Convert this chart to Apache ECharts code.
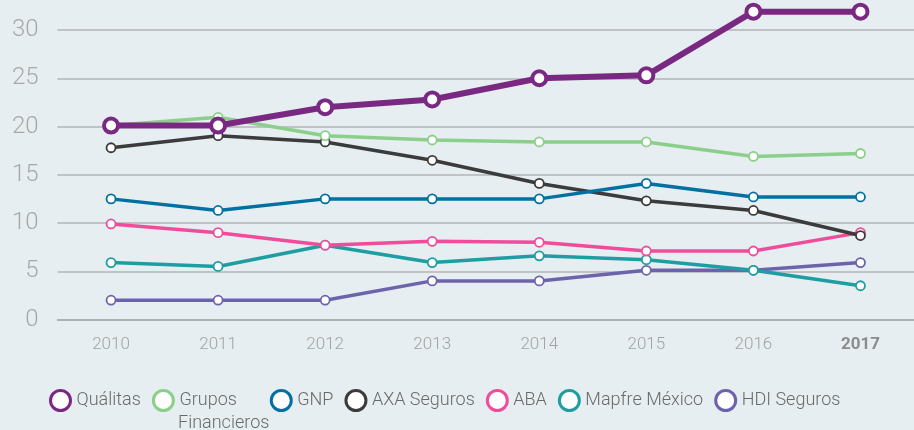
<!DOCTYPE html>
<html>
<head>
<meta charset="utf-8">
<script src="https://cdn.jsdelivr.net/npm/echarts@6/dist/echarts.min.js"></script>
<style>
html,body{margin:0;padding:0;background:#e6eef1;}
#c{width:914px;height:430px;}
</style>
</head>
<body>
<div id="c"></div>
<script>
var years = ['2010','2011','2012','2013','2014','2015','2016','2017'];
var yTicks = [0,5,10,15,20,25,30];
var qualitas = [20.1,20.1,22.0,22.8,25.0,25.3,31.9,31.9];
var grupos   = [20.1,20.95,19.05,18.6,18.4,18.4,16.9,17.2];
var gnp      = [12.5,11.3,12.5,12.5,12.5,14.1,12.7,12.7];
var axa      = [17.8,19.05,18.4,16.5,14.1,12.3,11.3,8.7];
var aba      = [9.9,9.0,7.7,8.1,8.0,7.1,7.1,9.0];
var mapfre   = [5.9,5.5,7.7,5.9,6.6,6.2,5.1,3.5];
var hdi      = [2.0,2.0,2.0,4.0,4.0,5.1,5.1,5.9];

var names = ['Quálitas','Grupos Financieros','GNP','AXA Seguros','ABA','Mapfre México','HDI Seguros'];
var colors = ['#7a2982','#8ccf8b','#0071a1','#3b3b3b','#ef4d9c','#1f9ea2','#6d63ab'];
var datas = [qualitas,grupos,gnp,axa,aba,mapfre,hdi];

var series = [];
for (var i = datas.length - 1; i >= 0; i--) {
  var main = i === 0;
  series.push({
    name: names[i],
    type: 'line',
    data: datas[i],
    clip: false,
    z: main ? 10 : 2 + (datas.length - i),
    symbol: 'circle',
    symbolSize: main ? 14 : 9,
    lineStyle: {color: colors[i], width: main ? 6 : 3.5},
    itemStyle: {color: '#ffffff', borderColor: colors[i], borderWidth: main ? 4 : 1.8},
    emphasis: {disabled: true},
    animation: false
  });
}

var legendData = names.map(function(n, i){
  return {name: n, icon: 'circle',
    itemStyle: {color: '#ffffff', borderColor: colors[i], borderWidth: 3}};
});

var chart = echarts.init(document.getElementById('c'));
chart.setOption({
  backgroundColor: '#e6eef1',
  color: colors,
  animation: false,
  grid: {left: 57.5, right: -5, top: 30, bottom: 110.5, containLabel: false},
  legend: {
    data: legendData,
    left: 44, top: 384,
    itemWidth: 22, itemHeight: 20, itemGap: 11,
    selectedMode: false,
    formatter: function(n){ return n === 'Grupos Financieros' ? 'Grupos\u00a0\u00a0\u00a0\u00a0\u00a0' : n; },
    textStyle: {fontFamily: 'Roboto', fontSize: 18, color: '#6a6a6a', fontWeight: 300}
  },
  graphic: [{
    type: 'text', left: 178, top: 414,
    style: {text: 'Financieros', fontFamily: 'Roboto', fontSize: 18, fontWeight: 300, fill: '#6a6a6a'}
  }],
  xAxis: {
    type: 'category',
    data: years,
    boundaryGap: true,
    axisLine: {lineStyle: {color: '#a9a9a9', width: 1.5}},
    axisTick: {length: 4, lineStyle: {color: '#a9a9a9', width: 1.2}},
    axisLabel: {
      margin: 17,
      fontFamily: 'Roboto', fontSize: 17, fontWeight: 300, color: '#a3a3a3',
      formatter: function(v){ return v === '2017' ? '{b|' + v + '}' : v; },
      rich: {b: {fontFamily: 'Roboto', fontSize: 17, fontWeight: 'bold', color: '#8c8c8c'}}
    },
    splitLine: {show: false}
  },
  yAxis: {
    type: 'value',
    min: yTicks[0], max: yTicks[yTicks.length-1], interval: 5,
    axisLine: {show: false},
    axisTick: {show: false},
    axisLabel: {margin: 19, fontFamily: 'Roboto', fontSize: 24, fontWeight: 300, color: '#a8a8a8'},
    splitLine: {lineStyle: {color: '#b3b3b3', width: 1.5}}
  },
  series: series
});
</script>
</body>
</html>
